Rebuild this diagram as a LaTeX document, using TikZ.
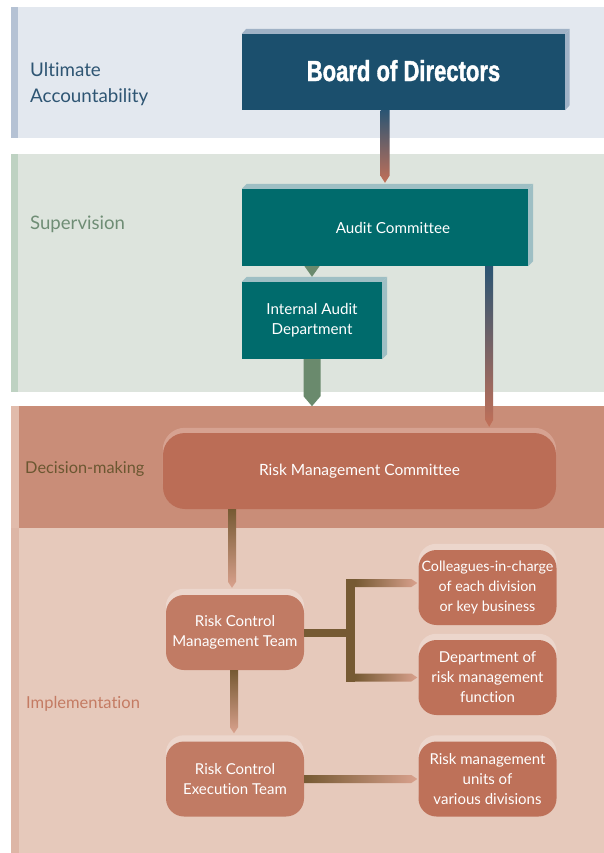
\documentclass[tikz,border=0pt]{standalone}
\usepackage{fontspec}
\setmainfont{Lato}[Ligatures=NoCommon]
\newfontfamily\boardfont{Liberation Sans}[BoldFeatures={FakeBold=1.6}]
\usepackage{graphicx}
\usetikzlibrary{calc}
\pgfdeclarelayer{bands}
\pgfdeclarelayer{bev}
\pgfsetlayers{bands,bev,main}

\definecolor{bandA}{HTML}{E3E8EF}
\definecolor{barA}{HTML}{B5C2D4}
\definecolor{bandB}{HTML}{DDE4DD}
\definecolor{barB}{HTML}{BED2C2}
\definecolor{bandC}{HTML}{C98D78}
\definecolor{barC}{HTML}{E1BBAB}
\definecolor{bandD}{HTML}{E6C9BB}
\definecolor{barD}{HTML}{DDB6A6}
\definecolor{boardc}{HTML}{1B4F6D}
\definecolor{boardbev}{HTML}{A0B2C6}
\definecolor{tealc}{HTML}{006B6C}
\definecolor{tealbev}{HTML}{9EBFC4}
\definecolor{rmcfill}{HTML}{BB6D56}
\definecolor{rmcbev}{HTML}{D6A291}
\definecolor{lboxc}{HTML}{C17B64}
\definecolor{rboxc}{HTML}{BE7159}
\definecolor{smallbev}{HTML}{ECD6CC}
\definecolor{brownc}{HTML}{765A33}
\definecolor{pinkc}{HTML}{D9A18D}
\definecolor{greenc}{HTML}{6A8A6D}
\definecolor{dbluec}{HTML}{2B5573}
\definecolor{mgreenc}{HTML}{6F8C70}
\definecolor{orngc}{HTML}{C27058}
\definecolor{uac}{HTML}{2E5573}
\definecolor{supc}{HTML}{6F8D75}
\definecolor{decc}{HTML}{6B5731}
\definecolor{impc}{HTML}{C47B63}

\newcommand\vconn[5]{%
  \path[#1] ($(#2)+(-#4,0)$) -- ($(#2)+(#4,0)$) -- ($(#3)+(#4,-#5)$) -- (#3) -- ($(#3)+(-#4,-#5)$) -- cycle;}
\newcommand\hconn[5]{%
  \path[#1] ($(#2)+(0,-#4)$) -- ($(#3)+(-#5,-#4)$) -- (#3) -- ($(#3)+(-#5,#4)$) -- ($(#2)+(0,#4)$) -- cycle;}

\tikzset{
  bandlabel/.style={anchor=west, align=left, inner sep=0},
  sqbox/.style={rectangle, inner sep=0, text=white, align=center, font=\fontsize{15.2}{20}\selectfont},
  rbox/.style={rectangle, rounded corners=18, inner sep=0, text=white, align=center,
    minimum width=138, minimum height=75, font=\fontsize{15}{20}\selectfont},
  bluegrad/.style={top color=dbluec, middle color=mgreenc, bottom color=orngc},
  brownv/.style={top color=brownc, bottom color=pinkc},
  brownh/.style={left color=brownc, right color=pinkc},
}

\begin{document}
\begin{tikzpicture}[x=1pt,y=-1pt]
\useasboundingbox (0,0) rectangle (604,853);

% bands
\begin{pgfonlayer}{bands}
  \fill[white] (0,0) rectangle (604,853);
  \fill[bandA] (11,7) rectangle (604,138);
  \fill[barA] (11,7) rectangle (18,138);
  \fill[bandB] (11,154) rectangle (604,392);
  \fill[barB] (11,154) rectangle (18,392);
  \fill[bandC] (11,406) rectangle (604,528);
  \fill[barC] (11,406) rectangle (19,528);
  \fill[bandD] (11,528) rectangle (604,853);
  \fill[barD] (11,528) rectangle (19,853);
\end{pgfonlayer}

% band labels
\node[bandlabel, text=uac, font=\fontsize{18.8}{26}\selectfont] (lua) at (30,84) {Ultimate\\Accountability};
\node[bandlabel, text=supc, font=\fontsize{18.6}{20}\selectfont] (lsup) at (30,224) {Supervision};
\node[bandlabel, text=decc, font=\fontsize{16.3}{20}\selectfont] (ldec) at (25,469) {Decision-making};
\node[bandlabel, text=impc, font=\fontsize{16.5}{20}\selectfont] (limp) at (26,704) {Implementation};

% square boxes
\node[sqbox, fill=boardc, minimum width=323, minimum height=76] (bod) at (403.5,72)
  {\raisebox{3pt}{\scalebox{0.76}[1]{\boardfont\bfseries\fontsize{29}{30}\selectfont Board of Directors}}};
\node[sqbox, fill=tealc, minimum width=286, minimum height=77] (ac) at (385,227.5) {\hspace*{16pt}Audit Committee};
\node[sqbox, fill=tealc, minimum width=140, minimum height=77] (iad) at (312,320.5) {Internal Audit\\Department};

% rounded boxes
\node[rbox, fill=rmcfill, minimum width=393, minimum height=76, rounded corners=22, font=\fontsize{15.5}{20}\selectfont] (rmc) at (359.5,471) {Risk Management Committee};
\node[rbox, fill=lboxc] (rcmt) at (235,632.5) {Risk Control\\Management Team};
\node[rbox, fill=lboxc] (rcet) at (235,779) {Risk Control\\Execution Team};
\node[rbox, fill=rboxc, font=\fontsize{14.3}{20}\selectfont] (col) at (487.5,587.5) {Colleagues-in-charge\\of each division\\or key business};
\node[rbox, fill=rboxc] (dep) at (487.5,677.5) {Department of\\risk management\\function};
\node[rbox, fill=rboxc] (rmu) at (487.5,779) {Risk management\\units of\\various divisions};

% bevels
\begin{pgfonlayer}{bev}
  \foreach \n/\c/\d/\e in {bod/boardbev/4.5/5, ac/tealbev/5/5, iad/tealbev/5/5}{
    \fill[\c] (\n.north west) -- ++(\d,-\e) -- ($(\n.north east)+(\d,-\e)$) -- (\n.north east) -- cycle;
    \fill[\c] (\n.north east) -- ++(\d,-\e) -- ($(\n.south east)+(\d,-\e)$) -- (\n.south east) -- cycle;
  }
  \fill[rmcbev, rounded corners=22] ($(rmc.north west)+(0,-5)$) rectangle ($(rmc.south east)+(0,-5)$);
  \foreach \n in {rcmt,rcet,col,dep,rmu}{
    \fill[smallbev, rounded corners=18] ($(\n.north west)+(0,-6)$) rectangle ($(\n.south east)+(0,-6)$);
  }
\end{pgfonlayer}

% connectors
\coordinate (bodo) at (bod.south -| ac.north);
\coordinate (bodt) at ($(ac.north)+(0,-6)$);
\vconn{bluegrad}{bodo}{bodt}{4.5}{7}

\coordinate (aco) at ($(ac.south east)+(-39,0)$);
\coordinate (act) at ($(aco |- rmc.north)+(0,-6)$);
\vconn{bluegrad}{aco}{act}{4}{7}

\coordinate (tro) at (ac.south -| iad.north);
\fill[greenc] ($(tro)+(-7.5,0)$) -- ($(tro)+(7.5,0)$) -- ($(iad.north)+(0,-5)$) -- cycle;

\coordinate (gtip) at ($(iad.south)+(0,47)$);
\vconn{fill=greenc}{iad.south}{gtip}{8.5}{10}

\coordinate (r1o) at ($(rmc.south -| rcmt.north)+(-3,0)$);
\coordinate (r1t) at ($(rcmt.north)+(-3,-7)$);
\vconn{brownv}{r1o}{r1t}{4}{6}

\coordinate (r2o) at ($(rcmt.south)+(-1,0)$);
\coordinate (r2t) at ($(rcet.north)+(-1,-8)$);
\vconn{brownv}{r2o}{r2t}{4}{6}

\coordinate (bx) at ($(rcmt.east)+(46.5,0)$);
\coordinate (bu) at ($(bx |- col.west)+(0,-4.5)$);
\coordinate (bl) at (bx |- dep.west);
\fill[brownc] ($(rcmt.east)+(0,-4)$) rectangle ($(bx)+(0,4)$);
\fill[brownc] ($(bu)+(-4.5,-4.5)$) rectangle ($(bl)+(4.5,4.5)$);
\coordinate (buo) at ($(bu)+(4.5,0)$);
\coordinate (but) at ($(col.west |- bu)+(-1,0)$);
\hconn{brownh}{buo}{but}{4}{6}
\coordinate (blo) at ($(bl)+(4.5,0)$);
\coordinate (blt) at ($(dep.west)+(-1,0)$);
\hconn{brownh}{blo}{blt}{4}{6}

\coordinate (r3t) at ($(rmu.west)+(-1,0)$);
\hconn{brownh}{rcet.east}{r3t}{4}{6}

\end{tikzpicture}
\end{document}
